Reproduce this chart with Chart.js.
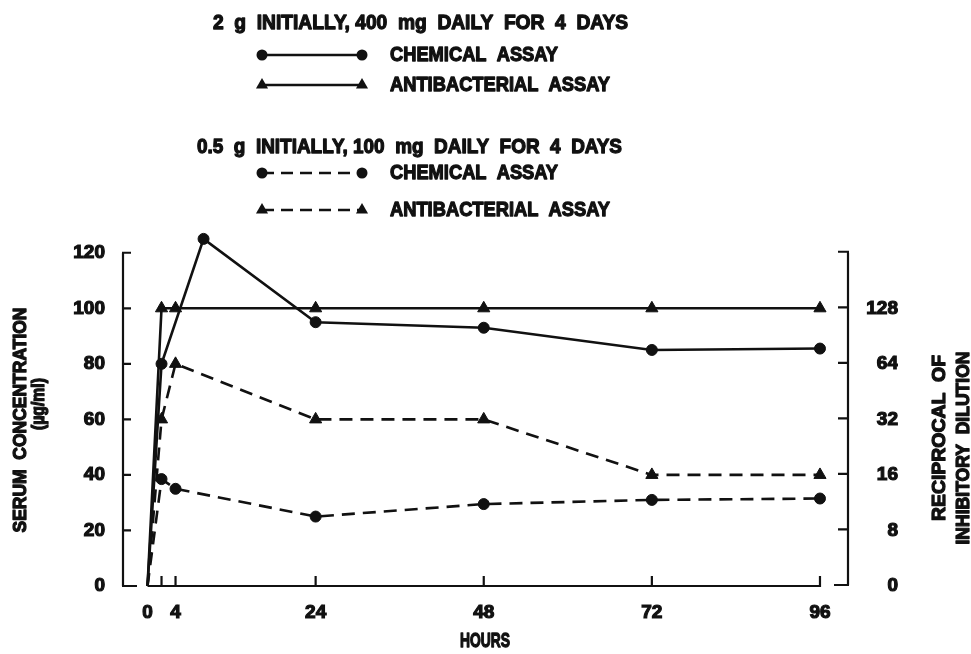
<!DOCTYPE html>
<html><head><meta charset="utf-8">
<script src="https://cdn.jsdelivr.net/npm/chart.js@4"></script>
<style>html,body{margin:0;padding:0;background:#fff;}#wrap{width:971px;height:654px;}</style>
</head><body><div id="wrap"><canvas id="c" width="971" height="654"></canvas></div>
<script>
// ---- data ----
const highChemHours = [0, 2, 8, 24, 48, 72, 96];
const highChemValues = [0, 80, 125, 95, 93, 85, 85.5];          // µg/ml
const highAntiHours = [0, 2, 4, 24, 48, 72, 96];
const highAntiTiters = [0, 128, 128, 128, 128, 128, 128];        // reciprocal of inhibitory dilution
const lowChemHours = [0, 2, 4, 24, 48, 72, 96];
const lowChemValues = [0, 38.5, 35, 25, 29.5, 31, 31.5];
const lowAntiHours = [0, 2, 4, 24, 48, 72, 96];
const lowAntiTiters = [0, 32, 64, 32, 32, 16, 16];

const xTickHours = [0, 2, 4, 24, 48, 72, 96];
const xTickLabels = ['0', '', '4', '24', '48', '72', '96'];
const leftTicks = [0, 20, 40, 60, 80, 100, 120];
const rightTickTiters = [0, 8, 16, 32, 64, 128];
const legendHeaders = ['2  g  INITIALLY, 400  mg  DAILY  FOR  4  DAYS', '0.5  g  INITIALLY, 100  mg  DAILY  FOR  4  DAYS'];
const seriesLabels = ['CHEMICAL  ASSAY', 'ANTIBACTERIAL  ASSAY'];
const xTitle = 'HOURS';
const leftTitle = ['SERUM  CONCENTRATION', '(\u00b5g/ml)'];
const rightTitle = ['RECIPROCAL  OF', 'INHIBITORY  DILUTION'];

// right axis: doubling dilutions are evenly spaced, 0 at the bottom
function titerToPos(t) { return t <= 0 ? 0 : 20 * (Math.log2(t) - 2); }
const pts = (hours, vals) => hours.map((h, i) => ({ x: h, y: vals[i] }));

const FONT = '"Liberation Sans", Arial, sans-serif';
const INK = '#111';

function fitText(ctx, text, x, y, width, size, rot, align) {
  ctx.save();
  ctx.font = 'bold ' + size + 'px ' + FONT;
  const w = ctx.measureText(text).width;
  ctx.translate(x, y);
  if (rot) ctx.rotate(rot);
  ctx.scale(width / w, 1);
  ctx.textAlign = align || 'center';
  ctx.textBaseline = 'middle';
  ctx.fillStyle = INK;
  ctx.strokeStyle = INK;
  ctx.lineWidth = 1.3;
  ctx.lineJoin = 'round';
  ctx.fillText(text, 0, 0);
  ctx.strokeText(text, 0, 0);
  ctx.restore();
}

function marker(ctx, style, x, y) {
  ctx.beginPath();
  if (style === 'triangle') {
    const r = 7;
    ctx.moveTo(x, y - r);
    ctx.lineTo(x + r * 0.866, y + r * 0.5);
    ctx.lineTo(x - r * 0.866, y + r * 0.5);
    ctx.closePath();
  } else {
    ctx.arc(x, y, 5.5, 0, Math.PI * 2);
  }
  ctx.fill();
}

const decor = {
  id: 'decor',
  beforeDraw(chart) {
    const ctx = chart.ctx;
    ctx.save(); ctx.fillStyle = '#fff'; ctx.fillRect(0, 0, chart.width, chart.height); ctx.restore();
  },
  afterDraw(chart) {
    const { ctx, chartArea: ca, scales: { x, y, y2 } } = chart;
    ctx.save();
    ctx.strokeStyle = INK; ctx.fillStyle = INK; ctx.lineWidth = 2.2; ctx.lineCap = 'butt';
    const xl = ca.left, xr = ca.right;
    const yb = y.getPixelForValue(0);
    // left axis
    ctx.beginPath();
    ctx.moveTo(xl, yb); ctx.lineTo(xl, y.getPixelForValue(120));
    leftTicks.forEach(v => { const p = y.getPixelForValue(v); ctx.moveTo(xl - 1, p); ctx.lineTo(xl + (v === 0 ? 14 : 8), p); });
    // right axis
    ctx.moveTo(xr, y2.getPixelForValue(0) - 1); ctx.lineTo(xr, y2.getPixelForValue(120));
    rightTickTiters.map(titerToPos).concat([120]).forEach(v => { const p = y2.getPixelForValue(v) - 1; ctx.moveTo(xr + 1, p); ctx.lineTo(xr - (v === 0 ? 14 : 10), p); });
    // x axis
    ctx.moveTo(x.getPixelForValue(0), yb); ctx.lineTo(x.getPixelForValue(96), yb);
    xTickHours.forEach(h => { if (h === 0) return; const p = x.getPixelForValue(h); ctx.moveTo(p, yb + 1); ctx.lineTo(p, yb - 10); });
    ctx.stroke();

    // legend
    const ds = chart.data.datasets;
    const rows = [
      { head: legendHeaders[0], hx: 213, hy: 23, hw: 415 },
      { d: ds[0], y: 55, w: 168 },
      { d: ds[1], y: 85, w: 220 },
      { head: legendHeaders[1], hx: 197, hy: 147, hw: 425 },
      { d: ds[2], y: 173, w: 168 },
      { d: ds[3], y: 210, w: 220 }
    ];
    rows.forEach(r => {
      if (r.head) { fitText(ctx, r.head, r.hx, r.hy, r.hw, 21, 0, 'left'); return; }
      ctx.save();
      ctx.lineWidth = 2.4;
      ctx.setLineDash(r.d.borderDash && r.d.borderDash.length ? [12, 7] : []);
      ctx.beginPath(); ctx.moveTo(262, r.y); ctx.lineTo(362, r.y); ctx.stroke();
      ctx.setLineDash([]);
      marker(ctx, r.d.pointStyle, 262, r.y);
      marker(ctx, r.d.pointStyle, 362, r.y);
      ctx.restore();
      fitText(ctx, r.d.label, 390, r.y, r.w, 21, 0, 'left');
    });

    // axis titles
    fitText(ctx, leftTitle[0], 21, 420, 225, 19, -Math.PI / 2);
    fitText(ctx, leftTitle[1], 39, 404, 52, 18, -Math.PI / 2);
    fitText(ctx, rightTitle[0], 940, 438, 166, 19, -Math.PI / 2);
    fitText(ctx, rightTitle[1], 964, 448, 193, 19, -Math.PI / 2);
    fitText(ctx, xTitle, 485, 641, 50, 20, 0);
    ctx.restore();
  }
};

const common = {
  borderColor: INK, backgroundColor: INK, borderWidth: 2.6, tension: 0, fill: false, clip: false,
  pointRadius: c => (c.dataIndex === 0 ? 0 : 5.5), pointBorderWidth: 1, pointHoverRadius: 0
};
const triRadius = c => (c.dataIndex === 0 ? 0 : 7);
const tickFont = { family: FONT, size: 19, weight: 'bold' };

new Chart(document.getElementById('c'), {
  type: 'line',
  data: {
    datasets: [
      Object.assign({}, common, { label: seriesLabels[0], data: pts(highChemHours, highChemValues), yAxisID: 'y', pointStyle: 'circle', borderDash: [] }),
      Object.assign({}, common, { label: seriesLabels[1], data: pts(highAntiHours, highAntiTiters.map(titerToPos)), yAxisID: 'y2', pointStyle: 'triangle', pointRadius: triRadius, borderDash: [] }),
      Object.assign({}, common, { label: seriesLabels[0], data: pts(lowChemHours, lowChemValues), yAxisID: 'y', pointStyle: 'circle', borderDash: [13, 8] }),
      Object.assign({}, common, { label: seriesLabels[1], data: pts(lowAntiHours, lowAntiTiters.map(titerToPos)), yAxisID: 'y2', pointStyle: 'triangle', pointRadius: triRadius, borderDash: [13, 8] })
    ]
  },
  options: {
    responsive: false, animation: false, devicePixelRatio: 1,
    layout: { padding: { top: 225, right: 73, left: 0, bottom: 0 } },
    plugins: { legend: { display: false }, tooltip: { enabled: false }, title: { display: false } },
    events: [],
    scales: {
      x: {
        type: 'linear', min: -3.5, max: 100,
        grid: { display: false, drawTicks: false }, border: { display: false },
        afterBuildTicks: s => { s.ticks = xTickHours.map(v => ({ value: v })); },
        afterFit: s => { s.height = 68; },
        ticks: { padding: 15, color: INK, font: tickFont, textStrokeColor: INK, textStrokeWidth: 1.2, maxRotation: 0, autoSkip: false,
                 callback: (v, i) => xTickLabels[i] }
      },
      y: {
        type: 'linear', position: 'left', min: 0, max: 130,
        grid: { display: false, drawTicks: false }, border: { display: false },
        afterBuildTicks: s => { s.ticks = leftTicks.map(v => ({ value: v })); },
        afterFit: s => { s.width = 123; },
        ticks: { padding: 18, color: INK, font: tickFont, textStrokeColor: INK, textStrokeWidth: 1.2, callback: v => String(v) }
      },
      y2: {
        type: 'linear', position: 'right', min: 0, max: 130,
        grid: { display: false, drawTicks: false }, border: { display: false },
        afterBuildTicks: s => { s.ticks = rightTickTiters.map(t => ({ value: titerToPos(t) })); },
        afterFit: s => { s.width = 50; },
        ticks: { crossAlign: 'far', color: INK, font: tickFont, textStrokeColor: INK, textStrokeWidth: 1.2, callback: (v, i) => String(rightTickTiters[i]) }
      }
    }
  },
  plugins: [decor]
});
</script>
</body></html>
